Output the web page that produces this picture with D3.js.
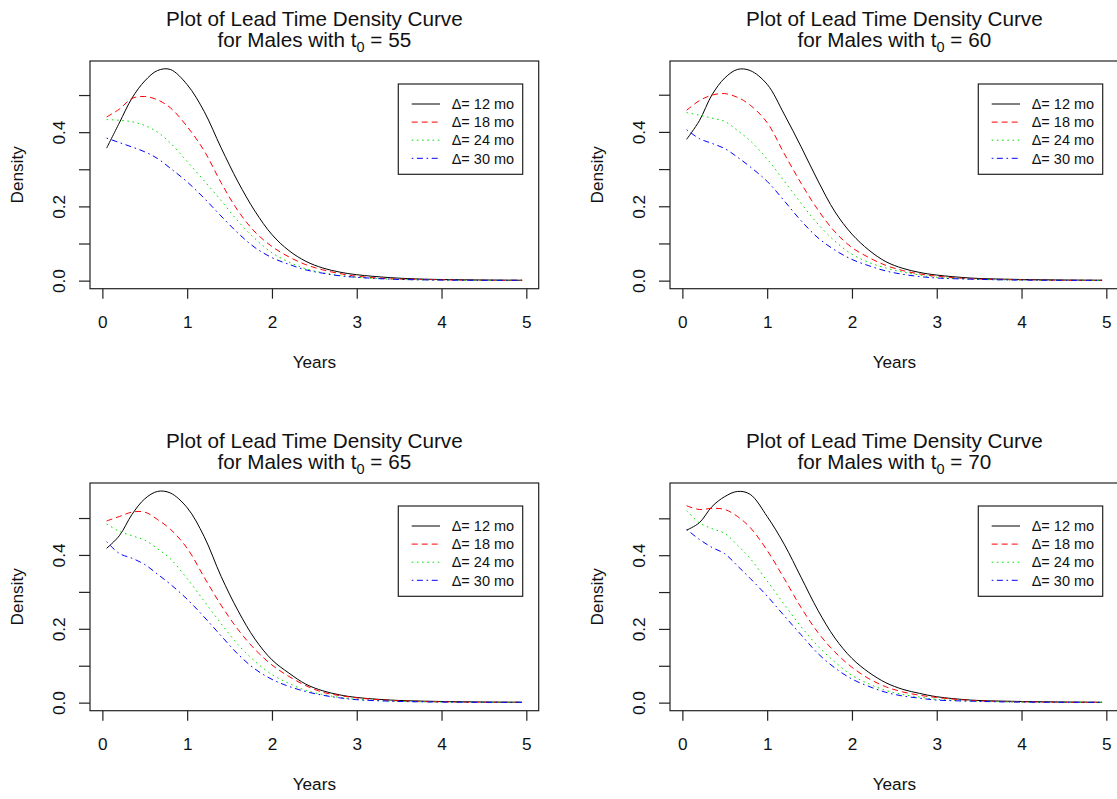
<!DOCTYPE html>
<html>
<head>
<meta charset="utf-8">
<script src="https://cdn.jsdelivr.net/npm/d3@7"></script>
<style>
  html, body { margin: 0; padding: 0; background: #ffffff; }
  svg { display: block; font-family: "Liberation Sans", Arial, sans-serif; }
</style>
</head>
<body>
<svg id="chart" width="1117" height="799"></svg>
<script>
// ---------------- DATA ----------------
const years = [0.05, 0.2, 0.35, 0.5, 0.65, 0.8, 1.0, 1.2, 1.4, 1.6, 1.8, 2.0, 2.2, 2.4, 2.6, 2.8, 3.0, 3.4, 3.8, 4.4, 4.95];

const ages = [55, 60, 65, 70];
const deltaLabels = ["Δ= 12 mo", "Δ= 18 mo", "Δ= 24 mo", "Δ= 30 mo"];
const xTickValues = [0, 1, 2, 3, 4, 5];
const yTickValues = [0, 0.1, 0.2, 0.3, 0.4, 0.5];
const yTickLabels = ["0.0", "", "0.2", "", "0.4", ""];

// t0 = 55
const t55_d12 = [0.357, 0.425, 0.492, 0.538, 0.566, 0.569, 0.528, 0.456, 0.358, 0.266, 0.187, 0.124, 0.081, 0.052, 0.034, 0.023, 0.016, 0.008, 0.004, 0.002, 0.001];
const t55_d18 = [0.441, 0.462, 0.491, 0.496, 0.487, 0.466, 0.415, 0.350, 0.264, 0.188, 0.131, 0.092, 0.064, 0.043, 0.029, 0.019, 0.012, 0.005, 0.003, 0.001, 0.001];
const t55_d24 = [0.434, 0.432, 0.428, 0.418, 0.400, 0.371, 0.321, 0.269, 0.216, 0.160, 0.113, 0.075, 0.050, 0.032, 0.021, 0.014, 0.009, 0.004, 0.002, 0.001, 0.001];
const t55_d30 = [0.384, 0.372, 0.360, 0.347, 0.329, 0.303, 0.266, 0.222, 0.174, 0.128, 0.089, 0.062, 0.044, 0.029, 0.020, 0.013, 0.009, 0.004, 0.002, 0.001, 0.001];
// t0 = 60
const t60_d12 = [0.380, 0.430, 0.500, 0.545, 0.568, 0.565, 0.528, 0.448, 0.360, 0.268, 0.185, 0.125, 0.082, 0.051, 0.033, 0.022, 0.015, 0.007, 0.004, 0.002, 0.001];
const t60_d18 = [0.458, 0.484, 0.499, 0.503, 0.493, 0.472, 0.425, 0.342, 0.262, 0.190, 0.131, 0.089, 0.062, 0.041, 0.027, 0.018, 0.012, 0.005, 0.003, 0.001, 0.001];
const t60_d24 = [0.452, 0.445, 0.437, 0.428, 0.404, 0.376, 0.327, 0.268, 0.208, 0.152, 0.106, 0.071, 0.049, 0.034, 0.023, 0.015, 0.009, 0.004, 0.002, 0.001, 0.001];
const t60_d30 = [0.406, 0.382, 0.369, 0.355, 0.332, 0.306, 0.267, 0.215, 0.161, 0.115, 0.082, 0.057, 0.040, 0.026, 0.017, 0.011, 0.007, 0.004, 0.002, 0.001, 0.001];
// t0 = 65
const t65_d12 = [0.418, 0.452, 0.510, 0.552, 0.572, 0.568, 0.528, 0.450, 0.342, 0.249, 0.172, 0.116, 0.080, 0.050, 0.032, 0.021, 0.014, 0.007, 0.004, 0.002, 0.001];
const t65_d18 = [0.492, 0.504, 0.516, 0.516, 0.496, 0.470, 0.418, 0.340, 0.264, 0.198, 0.144, 0.102, 0.071, 0.046, 0.028, 0.019, 0.013, 0.006, 0.003, 0.001, 0.001];
const t65_d24 = [0.484, 0.464, 0.452, 0.440, 0.417, 0.390, 0.336, 0.275, 0.214, 0.157, 0.112, 0.076, 0.052, 0.033, 0.022, 0.014, 0.009, 0.004, 0.002, 0.001, 0.001];
const t65_d30 = [0.436, 0.404, 0.391, 0.374, 0.348, 0.321, 0.280, 0.232, 0.181, 0.131, 0.091, 0.063, 0.044, 0.030, 0.020, 0.013, 0.008, 0.004, 0.002, 0.001, 0.001];
// t0 = 70
const t70_d12 = [0.468, 0.488, 0.532, 0.559, 0.573, 0.565, 0.505, 0.430, 0.340, 0.250, 0.175, 0.120, 0.082, 0.054, 0.036, 0.025, 0.016, 0.007, 0.004, 0.002, 0.001];
const t70_d18 = [0.534, 0.524, 0.527, 0.524, 0.505, 0.475, 0.413, 0.337, 0.258, 0.190, 0.137, 0.096, 0.065, 0.043, 0.029, 0.020, 0.014, 0.006, 0.003, 0.001, 0.001];
const t70_d24 = [0.521, 0.488, 0.472, 0.459, 0.427, 0.391, 0.330, 0.267, 0.206, 0.153, 0.110, 0.074, 0.051, 0.033, 0.022, 0.015, 0.009, 0.004, 0.002, 0.001, 0.001];
const t70_d30 = [0.470, 0.443, 0.421, 0.404, 0.371, 0.337, 0.289, 0.236, 0.184, 0.133, 0.094, 0.064, 0.044, 0.028, 0.018, 0.012, 0.007, 0.004, 0.002, 0.001, 0.001];

const panelSeries = [
  [t55_d12, t55_d18, t55_d24, t55_d30],
  [t60_d12, t60_d18, t60_d24, t60_d30],
  [t65_d12, t65_d18, t65_d24, t65_d30],
  [t70_d12, t70_d18, t70_d24, t70_d30]
];

// ---------------- STYLE ----------------
const colors = ["#000000", "#ff0000", "#00e000", "#0000ff"];
const dashes = [null, "6,4", "1.6,3.6", "1.6,3.6,6,3.6"];
const FONT_AXIS = 17.2, FONT_TITLE = 20.7, FONT_LEG = 14.5;

const svg = d3.select("#chart");
const offsets = [[0, 0], [580, 0], [0, 422], [580, 422]];
const box = {left: 90, right: 538.7, top: 61, bottom: 288.7};

ages.forEach((age, i) => {
  const [ox, oy] = offsets[i];
  const g = svg.append("g").attr("transform", `translate(${ox},${oy})`);
  const series = panelSeries[i];

  // R-style 4% range extension
  const xr = d3.extent(years);
  const xpad = (xr[1] - xr[0]) * 0.04;
  const allY = series.flat();
  const yr = d3.extent(allY);
  const ypad = (yr[1] - yr[0]) * 0.04;

  const x = d3.scaleLinear().domain([xr[0] - xpad, xr[1] + xpad]).range([box.left, box.right]);
  const y = d3.scaleLinear().domain([yr[0] - ypad, yr[1] + ypad]).range([box.bottom, box.top]);

  const clipId = "clip" + i;
  g.append("clipPath").attr("id", clipId).append("rect")
    .attr("x", box.left).attr("y", box.top)
    .attr("width", box.right - box.left).attr("height", box.bottom - box.top);

  const line = d3.line().x((d, k) => x(years[k])).y(d => y(d)).curve(d3.curveCatmullRom.alpha(0.5));
  series.forEach((s, k) => {
    g.append("path")
      .attr("d", line(s))
      .attr("fill", "none")
      .attr("stroke", colors[k])
      .attr("stroke-width", 1)
      .attr("stroke-dasharray", dashes[k])
      .attr("clip-path", `url(#${clipId})`);
  });

  g.append("rect")
    .attr("x", box.left).attr("y", box.top)
    .attr("width", box.right - box.left).attr("height", box.bottom - box.top)
    .attr("fill", "none").attr("stroke", "#222").attr("stroke-width", 1.2);

  const xAxis = g.append("g").attr("transform", `translate(0,${box.bottom})`)
    .call(d3.axisBottom(x).tickValues(xTickValues).tickSize(10).tickPadding(17).tickFormat(d3.format("d")));
  xAxis.select(".domain").remove();
  xAxis.selectAll(".tick line").attr("stroke", "#222").attr("stroke-width", 1.2);
  xAxis.selectAll(".tick text")
    .attr("font-size", FONT_AXIS).attr("font-family", "Liberation Sans, Arial, sans-serif")
    .attr("fill", "#111");

  const yAxis = g.append("g").attr("transform", `translate(${box.left},0)`)
    .call(d3.axisLeft(y).tickValues(yTickValues).tickSize(11).tickFormat((d, k) => yTickLabels[k]));
  yAxis.select(".domain").remove();
  yAxis.selectAll(".tick line").attr("stroke", "#222").attr("stroke-width", 1.2);
  yAxis.selectAll(".tick text")
    .attr("font-size", FONT_AXIS).attr("font-family", "Liberation Sans, Arial, sans-serif")
    .attr("fill", "#111")
    .attr("x", null).attr("dy", null)
    .attr("text-anchor", "middle")
    .attr("transform", `translate(${65.2 - box.left},0) rotate(-90)`);

  g.append("text")
    .attr("x", (box.left + box.right) / 2).attr("y", 368)
    .attr("text-anchor", "middle").attr("font-size", FONT_AXIS).attr("fill", "#111")
    .text("Years");
  g.append("text")
    .attr("transform", `translate(23,${(box.top + box.bottom) / 2}) rotate(-90)`)
    .attr("text-anchor", "middle").attr("font-size", FONT_AXIS).attr("fill", "#111")
    .text("Density");

  const cx = (box.left + box.right) / 2;
  g.append("text").attr("x", cx).attr("y", 26)
    .attr("text-anchor", "middle").attr("font-size", FONT_TITLE).attr("fill", "#111")
    .text("Plot of Lead Time Density Curve");
  const t2 = g.append("text").attr("x", cx).attr("y", 47)
    .attr("text-anchor", "middle").attr("font-size", FONT_TITLE).attr("fill", "#111");
  t2.append("tspan").text("for Males with t");
  t2.append("tspan").attr("font-size", FONT_TITLE * 0.7).attr("dy", 5).text("0");
  t2.append("tspan").attr("dy", -5).text(" = " + age);

  const leg = {x0: 398.3, y0: 84, x1: 522.7, y1: 174.3};
  g.append("rect").attr("x", leg.x0).attr("y", leg.y0)
    .attr("width", leg.x1 - leg.x0).attr("height", leg.y1 - leg.y0)
    .attr("fill", "#fff").attr("stroke", "#222").attr("stroke-width", 1.2);
  const rowY = d3.scalePoint().domain(d3.range(deltaLabels.length)).range([104, 158.3]);
  deltaLabels.forEach((lab, k) => {
    g.append("line")
      .attr("x1", 411.7).attr("x2", 440).attr("y1", rowY(k)).attr("y2", rowY(k))
      .attr("stroke", colors[k]).attr("stroke-width", 1)
      .attr("stroke-dasharray", dashes[k]);
    g.append("text")
      .attr("x", 451.7).attr("y", rowY(k) + 5.2)
      .attr("font-size", FONT_LEG).attr("fill", "#111")
      .text(lab);
  });
});
</script>
</body>
</html>
